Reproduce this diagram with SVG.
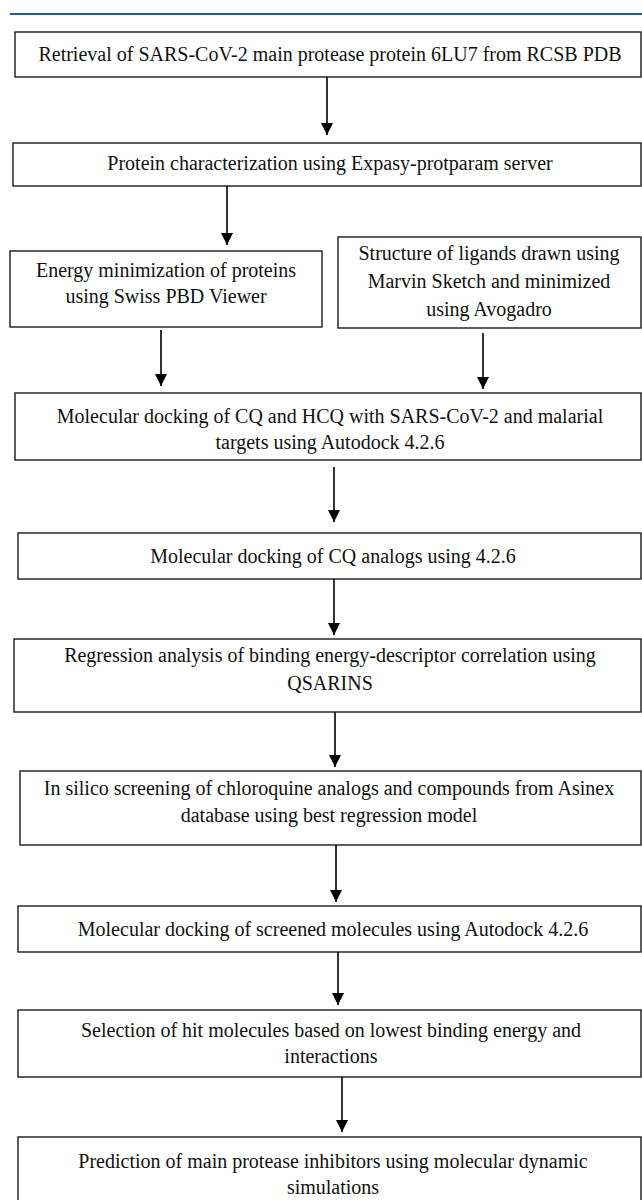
<svg xmlns="http://www.w3.org/2000/svg" width="642" height="1200" viewBox="0 0 642 1200">
<style>
.box{fill:#fff;stroke:#1a1a1a;stroke-width:1.4}
.t{font-family:"Liberation Serif","Times New Roman",serif;font-size:20px;fill:#111;text-anchor:middle}
.c{stroke:#000;stroke-width:1.6;fill:none}
</style>
<defs>
<marker id="ah" markerUnits="userSpaceOnUse" markerWidth="12" markerHeight="12" viewBox="0 0 12 12" refX="6" refY="12" orient="auto-start-reverse">
<path d="M0,0 L12,0 L6,12 Z" fill="#000" transform="rotate(-90 6 6)"/>
</marker>
<marker id="arr" markerUnits="userSpaceOnUse" markerWidth="12" markerHeight="12" viewBox="0 0 12 12" refX="12" refY="6" orient="auto">
<path d="M0,0 L12,6 L0,12 Z" fill="#000"/>
</marker>
</defs>
<rect width="642" height="1200" fill="#fff"/>
<line x1="10" y1="14" x2="642" y2="14" stroke="#1b5ea8" stroke-width="2.2"/>
<g id="n1"><rect class="box" x="15" y="32" width="626" height="45"/><text class="t" x="330" y="61">Retrieval of SARS-CoV-2 main protease protein 6LU7 from RCSB PDB</text></g>
<g id="n2"><rect class="box" x="13" y="143" width="628" height="43"/><text class="t" x="330" y="170">Protein characterization using Expasy-protparam server</text></g>
<g id="n3"><rect class="box" x="10" y="251" width="312" height="76"/><text class="t" x="166" y="277">Energy minimization of proteins</text><text class="t" x="166" y="303">using Swiss PBD Viewer</text></g>
<g id="n4"><rect class="box" x="338" y="237" width="303" height="91"/><text class="t" x="489" y="260">Structure of ligands drawn using</text><text class="t" x="489" y="288">Marvin Sketch and minimized</text><text class="t" x="489" y="316">using Avogadro</text></g>
<g id="n5"><rect class="box" x="15" y="393" width="626" height="67"/><text class="t" x="330" y="423">Molecular docking of CQ and HCQ with SARS-CoV-2 and malarial</text><text class="t" x="330" y="449">targets using Autodock 4.2.6</text></g>
<g id="n6"><rect class="box" x="18" y="533" width="623" height="46"/><text class="t" x="333" y="563">Molecular docking of CQ analogs using 4.2.6</text></g>
<g id="n7"><rect class="box" x="14" y="639" width="627" height="73"/><text class="t" x="330" y="662">Regression analysis of binding energy-descriptor correlation using</text><text class="t" x="330" y="690">QSARINS</text></g>
<g id="n8"><rect class="box" x="20" y="771" width="621" height="74"/><text class="t" x="329" y="795">In silico screening of chloroquine analogs and compounds from Asinex</text><text class="t" x="329" y="822">database using best regression model</text></g>
<g id="n9"><rect class="box" x="18" y="906" width="623" height="46"/><text class="t" x="333" y="936">Molecular docking of screened molecules using Autodock 4.2.6</text></g>
<g id="n10"><rect class="box" x="18" y="1010" width="623" height="67"/><text class="t" x="331" y="1037">Selection of hit molecules based on lowest binding energy and</text><text class="t" x="331" y="1063">interactions</text></g>
<g id="n11"><rect class="box" x="18" y="1137" width="623" height="80"/><text class="t" x="333" y="1168">Prediction of main protease inhibitors using molecular dynamic</text><text class="t" x="333" y="1194">simulations</text></g>
<g id="connectors">
<line class="c" x1="327" y1="77" x2="327" y2="135" marker-end="url(#arr)"/>
<line class="c" x1="227" y1="186" x2="227" y2="245" marker-end="url(#arr)"/>
<line class="c" x1="161" y1="330" x2="161" y2="386" marker-end="url(#arr)"/>
<line class="c" x1="483" y1="333" x2="483" y2="389" marker-end="url(#arr)"/>
<line class="c" x1="334" y1="467" x2="334" y2="522" marker-end="url(#arr)"/>
<line class="c" x1="334" y1="579" x2="334" y2="635" marker-end="url(#arr)"/>
<line class="c" x1="335" y1="712" x2="335" y2="767" marker-end="url(#arr)"/>
<line class="c" x1="336" y1="845" x2="336" y2="902" marker-end="url(#arr)"/>
<line class="c" x1="338" y1="952" x2="338" y2="1005" marker-end="url(#arr)"/>
<line class="c" x1="342" y1="1077" x2="342" y2="1132" marker-end="url(#arr)"/>
</g>
</svg>
